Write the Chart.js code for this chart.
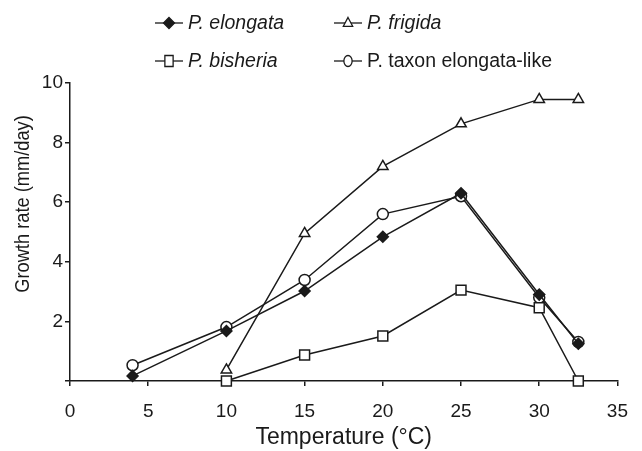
<!DOCTYPE html>
<html>
<head>
<meta charset="utf-8">
<script src="https://cdn.jsdelivr.net/npm/chart.js@4/dist/chart.umd.min.js"></script>
<style>
  html, body { margin: 0; padding: 0; background: #fff; }
  #wrap { width: 642px; height: 451px; }
</style>
</head>
<body>
<div id="wrap"><canvas id="chart" width="642" height="451"></canvas></div>
<script>
// Growth rate vs temperature
const tempsFull = [4, 10, 15, 20, 25, 30, 32.5];
const tempsWarm = [10, 15, 20, 25, 30, 32.5];

const elongataRate = [0.17, 1.68, 3.02, 4.84, 6.3, 2.9, 1.25];
const frigidaRate = [0.37, 4.95, 7.2, 8.63, 9.45, 9.45];
const bisheriaRate = [0, 0.87, 1.51, 3.05, 2.46, 0];
const taxonRate = [0.53, 1.81, 3.39, 5.6, 6.2, 2.8, 1.31];

const seriesNames = ['P. elongata', 'P. frigida', 'P. bisheria', 'P. taxon elongata-like'];

const xTickValues = [0, 5, 10, 15, 20, 25, 30, 35];
const yTickValues = [0, 2, 4, 6, 8, 10];

const INK = '#1a1a1a';
const FONT = "'Liberation Sans', Arial, Helvetica, sans-serif";

function pts(xs, ys) {
  return xs.map((x, i) => ({ x: x, y: ys[i] }));
}

function series(label, data, style, fill, radius, italic) {
  return {
    label: label,
    data: data,
    showLine: true,
    borderColor: INK,
    borderWidth: 1.5,
    pointStyle: style,
    pointRadius: radius,
    pointBackgroundColor: fill,
    pointBorderColor: INK,
    pointBorderWidth: 1.5,
    clip: false,
    italic: italic
  };
}

const datasets = [
  series(seriesNames[2], pts(tempsWarm, bisheriaRate), 'rect', '#fff', 7, true),
  series(seriesNames[1], pts(tempsWarm, frigidaRate), 'triangle', '#fff', 6, true),
  series(seriesNames[0], pts(tempsFull, elongataRate), 'rectRot', INK, 5.5, true),
  series(seriesNames[3], pts(tempsFull, taxonRate), 'circle', '#fff', 5.5, false)
];

// small marker painter for the legend
function marker(ctx, style, x, y, r, fill) {
  ctx.beginPath();
  if (style === 'rectRot') {
    ctx.moveTo(x, y - r); ctx.lineTo(x + r, y); ctx.lineTo(x, y + r); ctx.lineTo(x - r, y);
    ctx.closePath();
  } else if (style === 'rect') {
    ctx.rect(x - r * 0.75, y - r, r * 1.5, r * 2);
  } else if (style === 'triangle') {
    ctx.moveTo(x, y - r); ctx.lineTo(x + r * 0.85, y + r * 0.6); ctx.lineTo(x - r * 0.85, y + r * 0.6);
    ctx.closePath();
  } else {
    ctx.ellipse(x, y, r * 0.75, r, 0, 0, Math.PI * 2);
  }
  ctx.fillStyle = fill;
  ctx.fill();
  ctx.stroke();
}

const legendAndTitle = {
  id: 'legendAndTitle',
  afterDraw(chart) {
    const ctx = chart.ctx;
    ctx.save();
    // legend: two columns, two rows
    const order = [2, 1, 0, 3]; // elongata, frigida, bisheria, taxon
    const colX = [155, 334];
    const rowY = [23, 61];
    order.forEach((di, k) => {
      const ds = chart.data.datasets[di];
      const x0 = colX[k % 2];
      const y0 = rowY[Math.floor(k / 2)];
      ctx.strokeStyle = INK;
      ctx.lineWidth = 1.3;
      ctx.beginPath();
      ctx.moveTo(x0, y0); ctx.lineTo(x0 + 28, y0);
      ctx.stroke();
      marker(ctx, ds.pointStyle, x0 + 14, y0, 5.5, ds.pointBackgroundColor);
      ctx.fillStyle = INK;
      ctx.font = (ds.italic ? 'italic ' : '') + '19.5px ' + FONT;
      ctx.textAlign = 'left';
      ctx.textBaseline = 'middle';
      ctx.fillText(ds.label, x0 + 33, y0 + 1);
    });
    // y axis title (slightly condensed, as in the figure)
    ctx.translate(23, 204);
    ctx.rotate(-Math.PI / 2);
    ctx.scale(0.87, 1);
    ctx.font = '21px ' + FONT;
    ctx.textAlign = 'center';
    ctx.textBaseline = 'middle';
    ctx.fillStyle = INK;
    ctx.fillText('Growth rate (mm/day)', 0, 0);
    ctx.restore();
  }
};

new Chart(document.getElementById('chart'), {
  type: 'scatter',
  data: { datasets: datasets },
  options: {
    responsive: false,
    animation: false,
    devicePixelRatio: 1,
    layout: { padding: { top: 83, right: 15, left: 0, bottom: 0 } },
    plugins: {
      legend: { display: false },
      tooltip: { enabled: false }
    },
    scales: {
      x: {
        type: 'linear',
        min: 0,
        max: 35,
        afterBuildTicks: s => { s.ticks = xTickValues.map(v => ({ value: v })); },
        afterFit: s => { s.height = 70; },
        ticks: { color: INK, font: { family: FONT, size: 19 }, padding: 14, maxRotation: 0 },
        grid: { drawOnChartArea: false, tickLength: 5, color: INK, lineWidth: 1.5 },
        border: { color: INK, width: 1.5 },
        title: {
          display: true,
          text: 'Temperature (°C)',
          color: INK,
          font: { family: FONT, size: 23 },
          padding: { top: 0, bottom: 0 }
        }
      },
      y: {
        min: 0,
        max: 10,
        afterBuildTicks: s => { s.ticks = yTickValues.map(v => ({ value: v })); },
        afterFit: s => { s.width = 70; },
        ticks: {
          color: INK,
          font: { family: FONT, size: 19 },
          padding: 2,
          callback: v => (v === 0 ? '' : v)
        },
        grid: { drawOnChartArea: false, tickLength: 5, color: INK, lineWidth: 1.5 },
        border: { color: INK, width: 1.5 }
      }
    }
  },
  plugins: [legendAndTitle]
});
</script>
</body>
</html>
